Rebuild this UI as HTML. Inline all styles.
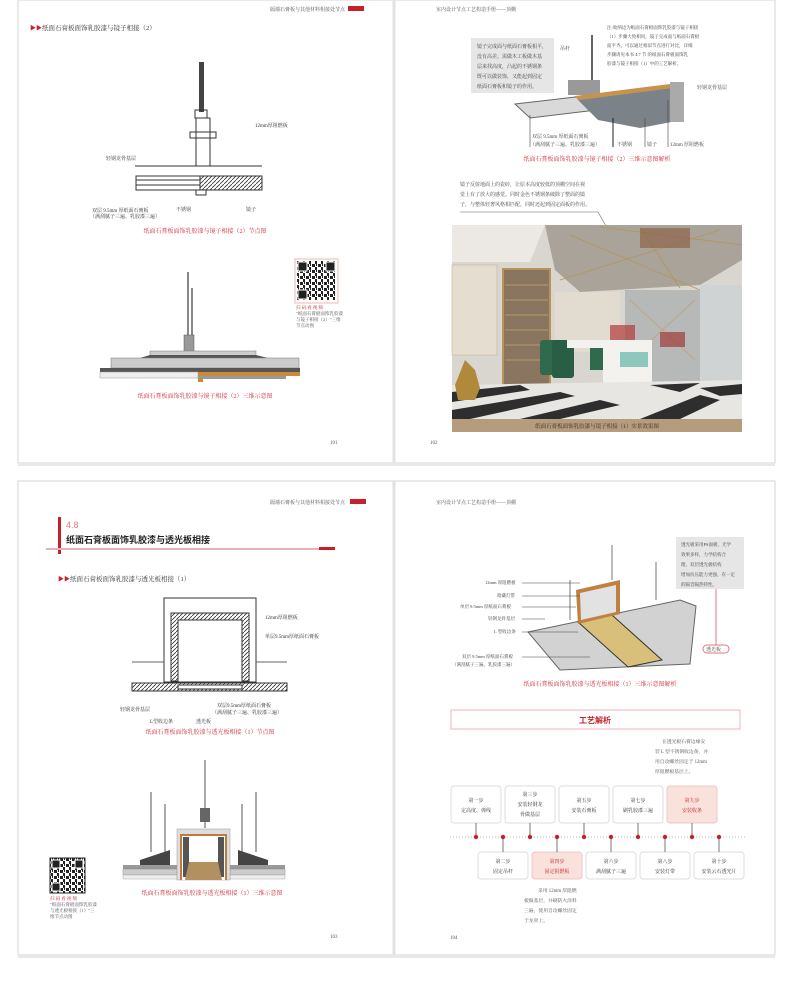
<!DOCTYPE html>
<html><head><meta charset="utf-8"><style>
body{margin:0;background:#fff;}
svg text{font-family:"Liberation Serif","Noto Serif CJK SC",serif;}
.s{font-family:"Liberation Sans","Noto Sans CJK SC",sans-serif;}
</style></head><body>
<svg width="790" height="1000" viewBox="0 0 790 1000" xmlns="http://www.w3.org/2000/svg">
<defs>
<pattern id="hat" width="4" height="4" patternUnits="userSpaceOnUse"><rect width="4" height="4" fill="#fff"/><path d="M0 4L4 0" stroke="#333" stroke-width="0.8"/></pattern>
<pattern id="qr" width="6" height="6" patternUnits="userSpaceOnUse"><rect width="6" height="6" fill="#fff"/><rect width="3" height="3" fill="#222"/><rect x="3" y="3" width="2" height="3" fill="#222"/><rect x="4" y="0" width="1" height="2" fill="#222"/></pattern>
</defs>
<rect width="790" height="1000" fill="#fff"/>
<rect x="18" y="0" width="757" height="463" fill="#fff" stroke="#d6d6d6"/>
<rect x="18" y="481" width="757" height="474" fill="#fff" stroke="#d6d6d6"/>
<line x1="394" y1="0" x2="394" y2="463" stroke="#e2e2e2" stroke-width="3"/>
<line x1="394" y1="481" x2="394" y2="955" stroke="#e2e2e2" stroke-width="3"/>
<rect x="18" y="463" width="757" height="3" fill="#e8e8e8"/>
<rect x="18" y="955" width="757" height="3" fill="#e8e8e8"/>

<!-- ===== Top-left page ===== -->
<text x="345" y="11" font-size="5" text-anchor="end" fill="#555">隔墙石膏板与其他材料相接处节点</text>
<rect x="348" y="6" width="16" height="5" fill="#c8202a"/>
<text x="30" y="30" font-size="6" fill="#c8202a">▶▶</text>
<text x="42" y="30" font-size="6.5" fill="#333">纸面石膏板面饰乳胶漆与镜子相接（2）</text>
<rect x="199" y="62" width="5" height="50" fill="#444"/>
<rect x="195" y="110" width="12" height="8" fill="none" stroke="#333"/>
<rect x="196" y="118" width="14" height="48" fill="none" stroke="#333"/>
<rect x="190" y="132" width="26" height="6" fill="none" stroke="#333"/>
<line x1="135" y1="166" x2="262" y2="166" stroke="#333"/>
<rect x="136" y="176" width="64" height="14" fill="#fff" stroke="#333"/>
<line x1="136" y1="180" x2="200" y2="180" stroke="#333"/><line x1="136" y1="185" x2="200" y2="185" stroke="#333"/>
<rect x="200" y="176" width="62" height="14" fill="url(#hat)" stroke="#333"/>
<rect x="196" y="190" width="10" height="5" fill="#fff" stroke="#333"/>
<text x="106" y="160" font-size="5" fill="#333">轻钢龙骨基层</text>
<text x="255" y="127" font-size="5" fill="#333">12mm厚阻燃板</text>
<text x="92" y="212" font-size="5" fill="#333">双层 9.5mm 厚纸面石膏板</text>
<text x="90" y="218" font-size="5" fill="#333">（满刮腻子三遍、乳胶漆三遍）</text>
<text x="176" y="211" font-size="5" fill="#333">不锈钢</text>
<text x="246" y="211" font-size="5" fill="#333">镜子</text>
<text x="205" y="233" font-size="6" fill="#d0303a" text-anchor="middle">纸面石膏板面饰乳胶漆与镜子相接（2）节点图</text>
<!-- diagram 2 -->
<rect x="187" y="272" width="2" height="80" fill="#888"/>
<rect x="191" y="288" width="2" height="64" fill="#888"/>
<rect x="184" y="335" width="10" height="18" fill="#999" stroke="#555" stroke-width="0.5"/>
<rect x="150" y="351" width="106" height="5" fill="#ccc" stroke="#777" stroke-width="0.5"/>
<polygon points="140,358 150,355 256,355 268,358" fill="#555"/>
<rect x="111" y="358" width="188" height="10" fill="#ccc" stroke="#777" stroke-width="0.5"/>
<rect x="100" y="368" width="200" height="4" fill="#555"/>
<rect x="100" y="372" width="98" height="6" fill="#eee" stroke="#999" stroke-width="0.5"/>
<rect x="198" y="372" width="102" height="4" fill="#c98a3a"/>
<rect x="198" y="376" width="88" height="3" fill="#999"/>
<rect x="198" y="378" width="5" height="4" fill="#c98a3a"/>
<rect x="295" y="259" width="43" height="44" fill="#fff" stroke="#f0b4b8"/>
<rect x="297" y="261" width="39" height="39" fill="url(#qr)"/>
<rect x="298" y="262" width="9" height="9" fill="#222" stroke="#fff" stroke-width="1"/><rect x="326" y="262" width="9" height="9" fill="#222" stroke="#fff" stroke-width="1"/><rect x="298" y="290" width="9" height="9" fill="#222" stroke="#fff" stroke-width="1"/>
<text x="296" y="309" font-size="4.5" fill="#c8202a">扫 码 看 视 频</text>
<text x="296" y="315" font-size="4.5" fill="#555">"纸面石膏板面饰乳胶漆</text>
<text x="296" y="321" font-size="4.5" fill="#555">与镜子相接（2）"三维</text>
<text x="296" y="327" font-size="4.5" fill="#555">节点动图</text>
<text x="205" y="398" font-size="6" fill="#d0303a" text-anchor="middle">纸面石膏板面饰乳胶漆与镜子相接（2）三维示意图</text>
<text x="330" y="444" font-size="5" fill="#555">101</text>

<!-- ===== Top-right page ===== -->
<text x="436" y="11" font-size="5" fill="#555">室内设计节点工艺构造手册——顶棚</text>
<rect x="471" y="38" width="83" height="55" fill="#e6e6e6"/>
<text x="477" y="48" font-size="5" fill="#444">镜子完成面与纸面石膏板相平，</text>
<text x="477" y="58" font-size="5" fill="#444">没有高差。需做木工板做木基</text>
<text x="477" y="68" font-size="5" fill="#444">层来找高度，凸起的不锈钢条</text>
<text x="477" y="78" font-size="5" fill="#444">既可以做装饰，又能起到固定</text>
<text x="477" y="88" font-size="5" fill="#444">纸面石膏板和镜子的作用。</text>
<text x="607" y="29" font-size="4.5" fill="#444">注:收纳边为纸面石膏板面饰乳胶漆与镜子相接</text>
<text x="607" y="38" font-size="4.5" fill="#444">（1）步骤大致相同，镜子完成面与纸面石膏板</text>
<text x="607" y="47" font-size="4.5" fill="#444">面平齐。可以通过相似节点进行对比，详细</text>
<text x="607" y="56" font-size="4.5" fill="#444">步骤请见本书 4.7 节 的纸面石膏板面饰乳</text>
<text x="607" y="65" font-size="4.5" fill="#444">胶漆与镜子相接（1）中的工艺解析。</text>
<line x1="592" y1="35" x2="592" y2="80" stroke="#666" stroke-width="2"/>
<text x="560" y="50" font-size="5" fill="#444">吊杆</text>
<polygon points="568,80 600,80 600,95 568,95" fill="#999"/>
<polygon points="515,104 670,86 680,100 530,118" fill="#d9d9d9" stroke="#666"/>
<polygon points="575,96 670,84 672,88 578,100" fill="#c8924a"/>
<polygon points="578,100 672,88 682,120 640,128 598,120" fill="#7b8288"/>
<rect x="670" y="82" width="14" height="40" fill="#aaa"/>
<text x="697" y="89" font-size="5" fill="#444">轻钢龙骨基层</text>
<line x1="530" y1="115" x2="530" y2="147" stroke="#444" stroke-width="0.6"/>
<line x1="613" y1="118" x2="613" y2="147" stroke="#222" stroke-width="1"/>
<line x1="645" y1="118" x2="645" y2="147" stroke="#444" stroke-width="0.6"/>
<line x1="668" y1="100" x2="668" y2="147" stroke="#444" stroke-width="0.6"/>
<text x="532" y="138" font-size="5" fill="#444">双层 9.5mm 厚纸面石膏板</text>
<text x="530" y="146" font-size="5" fill="#444">（满刮腻子三遍、乳胶漆三遍）</text>
<text x="617" y="146" font-size="5" fill="#444">不锈钢</text>
<text x="647" y="146" font-size="5" fill="#444">镜子</text>
<text x="670" y="146" font-size="5" fill="#444">12mm 厚阻燃板</text>
<text x="597" y="161" font-size="6" fill="#d0303a" text-anchor="middle">纸面石膏板面饰乳胶漆与镜子相接（2）三维示意图解析</text>
<text x="460" y="186" font-size="5" fill="#444">镜子反射地面上的瓷砖，让原本高度较低的顶棚空间在视</text>
<text x="460" y="196" font-size="5" fill="#444">觉上有了放大的感觉。同时金色不锈钢条破除了整面的镜</text>
<text x="460" y="206" font-size="5" fill="#444">子，与整体轻奢风格相匹配，同时还起到固定面板的作用。</text>
<polyline points="460,212 598,212 606,226" fill="none" stroke="#666" stroke-width="0.6"/>
<!-- photo -->
<rect x="452" y="225" width="290" height="207" fill="#d9d6d0"/>
<polygon points="452,225 545,225 530,262 452,262" fill="#ece9e4"/>
<polygon points="545,225 742,225 742,260 700,285 580,292 555,270" fill="#a9a39a"/>
<g stroke="#b8945a" stroke-width="0.8"><line x1="570" y1="235" x2="700" y2="290"/><line x1="600" y1="227" x2="742" y2="245"/><line x1="560" y1="280" x2="720" y2="230"/><line x1="640" y1="227" x2="680" y2="288"/></g>
<rect x="640" y="228" width="50" height="20" fill="#8a5a40" opacity="0.6"/>
<rect x="452" y="265" width="45" height="90" fill="#e4ddd0" stroke="#c8b490" stroke-width="0.6"/>
<rect x="503" y="269" width="47" height="125" fill="#8a7560" stroke="#b8945a" stroke-width="2"/>
<g stroke="#c9a66b" stroke-width="0.8"><line x1="505" y1="285" x2="548" y2="285"/><line x1="505" y1="300" x2="548" y2="300"/><line x1="505" y1="315" x2="548" y2="315"/><line x1="505" y1="330" x2="548" y2="330"/><line x1="505" y1="345" x2="548" y2="345"/><line x1="505" y1="360" x2="548" y2="360"/></g>
<rect x="555" y="292" width="65" height="60" fill="#e2dbd0"/>
<rect x="625" y="290" width="75" height="95" fill="#b7b9b8"/>
<g stroke="#c49a66" stroke-width="0.6"><line x1="630" y1="300" x2="695" y2="360"/><line x1="695" y1="300" x2="630" y2="360"/></g>
<rect x="700" y="285" width="42" height="100" fill="#cfd3d4"/>
<rect x="660" y="332" width="25" height="15" fill="#a03a3a" opacity="0.7"/>
<rect x="610" y="325" width="25" height="15" fill="#b03a3a" opacity="0.7"/>
<rect x="540" y="340" width="18" height="35" rx="3" fill="#2f6a4c"/><rect x="552" y="340" width="22" height="38" rx="3" fill="#2a5e44"/>
<rect x="590" y="345" width="15" height="25" fill="#2f6a4c"/>
<rect x="567" y="340" width="85" height="8" fill="#f4f2ee"/>
<rect x="603" y="340" width="49" height="75" fill="#f4f2ee"/>
<rect x="620" y="352" width="28" height="15" fill="#8ec7be"/>
<rect x="620" y="395" width="20" height="18" fill="#b36b3a"/>
<polygon points="452,385 742,380 742,419 452,419" fill="#e8e6e3"/>
<g fill="#2e2e2e"><polygon points="452,392 520,385 530,390 452,402"/><polygon points="452,410 560,392 575,396 470,419 452,419"/><polygon points="520,419 600,400 620,405 560,419"/><polygon points="640,419 700,395 720,400 680,419"/><polygon points="700,388 742,384 742,394 720,396"/><polygon points="650,385 700,383 680,392"/></g>
<polygon points="455,385 465,360 475,370 480,388 475,400 458,400" fill="#b08a3a"/>
<rect x="452" y="419" width="290" height="13" fill="#b59c7c"/>
<text x="597" y="428" font-size="5.5" fill="#3a2a1a" text-anchor="middle">纸面石膏板面饰乳胶漆与镜子相接（1）实景效果图</text>
<text x="430" y="444" font-size="5" fill="#555">102</text>

<!-- ===== Bottom-left page ===== -->
<text x="345" y="504" font-size="5" text-anchor="end" fill="#555">隔墙石膏板与其他材料相接处节点</text>
<rect x="350" y="499" width="16" height="5" fill="#c8202a"/>
<rect x="58" y="517" width="3" height="37" fill="#c8202a"/>
<text x="66" y="528" font-size="9" fill="#e07a80" class="s">4.8</text>
<text x="66" y="543" font-size="9" font-weight="bold" fill="#222" class="s">纸面石膏板面饰乳胶漆与透光板相接</text>
<rect x="46" y="548" width="274" height="2" fill="#e8b0b2"/>
<rect x="319" y="547" width="16" height="3" fill="#c8202a"/>
<text x="58" y="581" font-size="6" fill="#c8202a">▶▶</text>
<text x="70" y="581" font-size="6.5" fill="#333">纸面石膏板面饰乳胶漆与透光板相接（1）</text>
<rect x="164" y="598" width="92" height="84" fill="none" stroke="#333"/>
<rect x="171" y="613" width="78" height="68" fill="url(#hat)" stroke="#333"/>
<rect x="178" y="620" width="64" height="62" fill="#fff" stroke="#333"/>
<rect x="132" y="683" width="155" height="8" fill="url(#hat)" stroke="#333"/>
<rect x="178" y="685" width="64" height="4" fill="#fff" stroke="#333"/>
<line x1="132" y1="662" x2="164" y2="662" stroke="#666"/><line x1="256" y1="662" x2="287" y2="662" stroke="#666"/>
<text x="265" y="619" font-size="5" fill="#333">12mm厚阻燃板</text>
<text x="265" y="638" font-size="5" fill="#333">单层9.5mm厚纸面石膏板</text>
<text x="217" y="707" font-size="5" fill="#333">双层9.5mm厚纸面石膏板</text>
<text x="212" y="714" font-size="5" fill="#333">（满刮腻子三遍、乳胶漆三遍）</text>
<text x="120" y="711" font-size="5" fill="#333">轻钢龙骨基层</text>
<text x="150" y="723" font-size="5" fill="#333">L型收边条</text>
<text x="196" y="723" font-size="5" fill="#333">透光板</text>
<text x="210" y="734" font-size="6" fill="#d0303a" text-anchor="middle">纸面石膏板面饰乳胶漆与透光板相接（1）节点图</text>
<!-- 3D diagram 2 -->
<g fill="#aaa"><rect x="150" y="792" width="2" height="60"/><rect x="164" y="804" width="2" height="48"/><rect x="241" y="804" width="2" height="48"/><rect x="255" y="792" width="2" height="60"/><rect x="204" y="760" width="2" height="68"/></g>
<rect x="200" y="808" width="10" height="14" fill="#666"/>
<polygon points="140,860 170,850 170,868 140,870" fill="#444"/>
<polygon points="268,860 238,850 238,868 268,870" fill="#444"/>
<rect x="123" y="865" width="54" height="4" fill="#999"/><rect x="230" y="865" width="55" height="4" fill="#999"/>
<rect x="123" y="869" width="54" height="6" fill="#ccc" stroke="#888" stroke-width="0.5"/><rect x="230" y="869" width="55" height="6" fill="#ccc" stroke="#888" stroke-width="0.5"/>
<rect x="123" y="875" width="54" height="4" fill="#eee" stroke="#aaa" stroke-width="0.5"/><rect x="230" y="875" width="55" height="4" fill="#eee" stroke="#aaa" stroke-width="0.5"/>
<rect x="177" y="829" width="53" height="51" fill="#ddd" stroke="#999" stroke-width="0.5"/>
<rect x="180" y="834" width="47" height="46" fill="#c07a3a"/>
<rect x="182" y="836" width="43" height="44" fill="#fff"/>
<rect x="183" y="837" width="6" height="40" fill="#555"/><rect x="218" y="837" width="6" height="40" fill="#555"/>
<polygon points="189,862 218,862 222,880 185,880" fill="#b39060"/>
<rect x="50" y="858" width="35" height="35" fill="url(#qr)" stroke="#222"/>
<rect x="52" y="860" width="8" height="8" fill="#222" stroke="#fff"/><rect x="75" y="860" width="8" height="8" fill="#222" stroke="#fff"/><rect x="52" y="883" width="8" height="8" fill="#222" stroke="#fff"/>
<text x="50" y="900" font-size="4.5" fill="#c8202a">扫 码 看 视 频</text>
<text x="50" y="906" font-size="4.5" fill="#555">"纸面石膏板面饰乳胶漆</text>
<text x="50" y="912" font-size="4.5" fill="#555">与透光板相接（1）"三</text>
<text x="50" y="918" font-size="4.5" fill="#555">维节点动图</text>
<text x="212" y="895" font-size="6" fill="#d0303a" text-anchor="middle">纸面石膏板面饰乳胶漆与透光板相接（1）三维示意图</text>
<text x="330" y="938" font-size="5" fill="#555">103</text>

<!-- ===== Bottom-right page ===== -->
<text x="436" y="504" font-size="5" fill="#555">室内设计节点工艺构造手册——顶棚</text>
<rect x="676" y="537" width="68" height="52" fill="#e6e6e6"/>
<text x="681" y="546" font-size="4.5" fill="#444">透光板采用PS面板，光学</text>
<text x="681" y="556" font-size="4.5" fill="#444">效果多样，力学结构合</text>
<text x="681" y="566" font-size="4.5" fill="#444">理，双层透光板结构</text>
<text x="681" y="576" font-size="4.5" fill="#444">增加抗压能力更强，有一定</text>
<text x="681" y="586" font-size="4.5" fill="#444">的隔音隔热特性。</text>
<line x1="716" y1="589" x2="716" y2="645" stroke="#e07a80"/>
<rect x="703" y="645" width="26" height="8" rx="4" fill="#fff" stroke="#e07a80"/>
<text x="706" y="651" font-size="5" fill="#444">透光板</text>
<polygon points="528,632 680,600 696,606 690,664 560,670" fill="#d2d2d2" stroke="#666"/>
<polygon points="578,622 612,615 662,660 628,667" fill="#d9c07a" stroke="#333"/>
<polygon points="576,590 620,580 620,614 578,624" fill="#c08040"/>
<polygon points="580,593 616,585 616,612 581,620" fill="#e2e2e2"/>
<line x1="612" y1="545" x2="612" y2="580" stroke="#777"/><line x1="570" y1="580" x2="570" y2="620" stroke="#777"/><line x1="656" y1="562" x2="656" y2="600" stroke="#777"/>
<g font-size="4.5" fill="#444">
<text x="485" y="584">12mm 厚阻燃板</text><line x1="522" y1="583" x2="580" y2="583" stroke="#444" stroke-width="0.5"/>
<text x="497" y="597">暗藏灯带</text><line x1="522" y1="596" x2="580" y2="596" stroke="#444" stroke-width="0.5"/>
<text x="460" y="608">单层 9.5mm 厚纸面石膏板</text><line x1="522" y1="607" x2="576" y2="607" stroke="#444" stroke-width="0.5"/>
<text x="488" y="620">轻钢龙骨基层</text><line x1="522" y1="619" x2="545" y2="619" stroke="#444" stroke-width="0.5"/>
<text x="494" y="633">L 型收边条</text><line x1="522" y1="632" x2="578" y2="632" stroke="#444" stroke-width="0.5"/>
<text x="462" y="658">双层 9.5mm 厚纸面石膏板</text><line x1="522" y1="657" x2="590" y2="657" stroke="#444" stroke-width="0.5"/>
<text x="452" y="666">（满刮腻子三遍、乳胶漆三遍）</text>
</g>
<text x="600" y="686" font-size="6" fill="#d0303a" text-anchor="middle">纸面石膏板面饰乳胶漆与透光板相接（1）三维示意图解析</text>
<rect x="451" y="710" width="289" height="19" fill="#fff" stroke="#f0b4b8"/>
<text x="595" y="723" font-size="8" font-weight="bold" fill="#c8202a" text-anchor="middle" class="s">工艺解析</text>
<g font-size="4.8" fill="#555" class="s">
<text x="662" y="743">在透光板石膏边缘安</text>
<text x="655" y="753">装 L 型不锈钢收边条，并</text>
<text x="655" y="763">用自攻螺丝固定于 12mm</text>
<text x="655" y="773">厚阻燃板基层上。</text>
</g>
<line x1="450" y1="837" x2="745" y2="837" stroke="#bbb" stroke-dasharray="1,2"/>
<g class="s" font-size="5" text-anchor="middle">
<g fill="#fff" stroke="#ddd">
<rect x="451" y="786" width="50" height="37" rx="3"/><rect x="505" y="786" width="50" height="37" rx="3"/><rect x="559" y="786" width="50" height="37" rx="3"/><rect x="613" y="786" width="50" height="37" rx="3"/>
<rect x="478" y="852" width="50" height="27" rx="3"/><rect x="586" y="852" width="50" height="27" rx="3"/><rect x="640" y="852" width="50" height="27" rx="3"/><rect x="694" y="852" width="50" height="27" rx="3"/>
</g>
<rect x="667" y="786" width="50" height="37" rx="3" fill="#f9e2dc" stroke="#f0c8c0"/>
<rect x="532" y="852" width="50" height="27" rx="3" fill="#f9e2dc" stroke="#f0c8c0"/>
<g stroke="#555" stroke-width="0.8">
<line x1="476" y1="823" x2="476" y2="837"/><line x1="530" y1="823" x2="530" y2="837"/><line x1="584" y1="823" x2="584" y2="837"/><line x1="638" y1="823" x2="638" y2="837"/><line x1="692" y1="823" x2="692" y2="837"/>
<line x1="503" y1="837" x2="503" y2="852"/><line x1="557" y1="837" x2="557" y2="852"/><line x1="611" y1="837" x2="611" y2="852"/><line x1="665" y1="837" x2="665" y2="852"/><line x1="719" y1="837" x2="719" y2="852"/>
</g>
<g fill="#c8202a">
<circle cx="476" cy="837" r="2.2"/><circle cx="503" cy="837" r="2.2"/><circle cx="530" cy="837" r="2.2"/><circle cx="557" cy="837" r="2.2"/><circle cx="584" cy="837" r="2.2"/><circle cx="611" cy="837" r="2.2"/><circle cx="638" cy="837" r="2.2"/><circle cx="665" cy="837" r="2.2"/><circle cx="692" cy="837" r="2.2"/><circle cx="719" cy="837" r="2.2"/>
</g>
<g fill="#333">
<text x="476" y="802">第一步</text><text x="476" y="812">定高度、弹线</text>
<text x="530" y="796">第三步</text><text x="530" y="806">安装轻钢龙</text><text x="530" y="816">骨做基层</text>
<text x="584" y="802">第五步</text><text x="584" y="812">安装石膏板</text>
<text x="638" y="802">第七步</text><text x="638" y="812">刷乳胶漆三遍</text>
<text x="503" y="863">第二步</text><text x="503" y="873">固定吊杆</text>
<text x="611" y="863">第六步</text><text x="611" y="873">满刮腻子三遍</text>
<text x="665" y="863">第八步</text><text x="665" y="873">安装灯带</text>
<text x="719" y="863">第十步</text><text x="719" y="873">安装云石透光片</text>
</g>
<g fill="#c8202a">
<text x="692" y="802">第九步</text><text x="692" y="812">安装收条</text>
<text x="557" y="863">第四步</text><text x="557" y="873">固定阻燃板</text>
</g>
</g>
<g font-size="4.8" fill="#555" class="s">
<text x="538" y="892">采用 12mm 厚阻燃</text>
<text x="524" y="902">板做基层，并刷防火涂料</text>
<text x="524" y="912">三遍，使用自攻螺丝固定</text>
<text x="524" y="922">于龙骨上。</text>
</g>
<text x="450" y="939" font-size="5" fill="#555">104</text>
</svg>
</body></html>
